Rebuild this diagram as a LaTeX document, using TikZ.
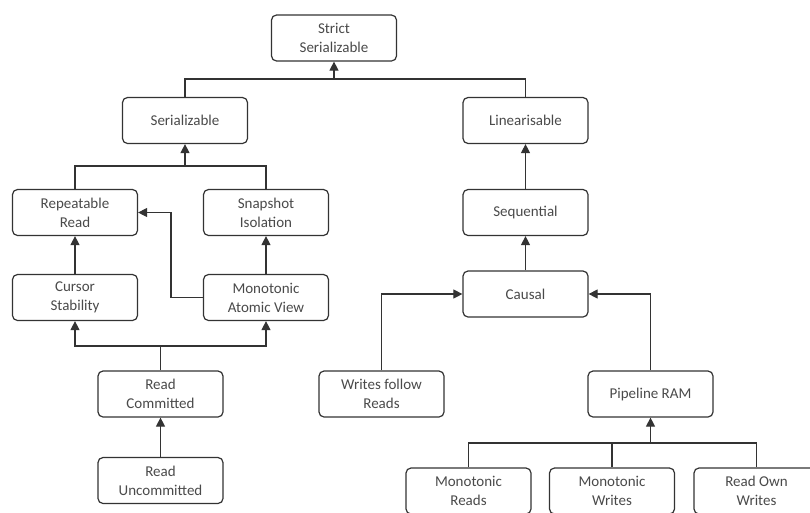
\documentclass[tikz,border=0pt]{standalone}
\usepackage{fontspec}
\setmainfont{Carlito}
\usepackage{xcolor}
\usepackage{tikz}
\usetikzlibrary{arrows.meta, positioning}

\definecolor{boxline}{HTML}{333333}
\definecolor{boxtext}{HTML}{4A4A4A}

\tikzset{
	level/.style={draw=boxline, line width=1.2pt, rounded corners=5pt, fill=white,
		minimum width=125pt, minimum height=46pt, align=center, text=boxtext,
		font=\fontsize{15}{19}\selectfont, inner sep=2pt},
	wire/.style={draw=boxline, line width=1.1pt},
	arr/.style={wire, -{Triangle[length=9pt, width=9pt]}}
}

\begin{document}
\begin{tikzpicture}[x=1pt, y=-1pt]
			\clip (0,0) rectangle (810,512);
			\useasboundingbox (0,0) rectangle (810,512);
			% Nodes:
			\node[level] (strict) at (334, 38) {Strict\\Serializable};
			\node[level] (ser) at (185, 120.5) {Serializable};
			\node[level] (lin) at (525.5, 120.5) {Linearisable};
			\node[level] (rr) at (75, 212.5) {Repeatable\\Read};
			\node[level] (si) at (266, 212.5) {Snapshot\\Isolation};
			\node[level] (seq) at (525.5, 212.5) {Sequential};
			\node[level] (cs) at (75, 297.5) {Cursor\\Stability};
			\node[level] (mav) at (266, 297.5) {Monotonic\\Atomic View};
			\node[level] (causal) at (525.5, 294) {Causal};
			\node[level] (rc) at (160.5, 394) {Read\\Committed};
			\node[level] (wfr) at (381.5, 394) {Writes follow\\Reads};
			\node[level] (pram) at (650.5, 394) {Pipeline RAM};
			\node[level] (ru) at (160.5, 480.5) {Read\\Uncommitted};
			\node[level] (mr) at (468.5, 491) {Monotonic\\Reads};
			\node[level] (mw) at (612, 491) {Monotonic\\Writes};
			\node[level] (row) at (756.5, 491) {Read Own\\Writes};
			% Junctions:
			\coordinate (topbus) at (334, 79);
			\coordinate (serbus) at (185, 166);
			\coordinate (rcbus) at (160.5, 346);
			\coordinate (pbus) at (650.5, 443);
			\coordinate (mavbend) at (171, 297.5);
			% Wires:
			\draw[wire] (ser.north) |- (topbus) -| (lin.north);
			\draw[arr] (topbus) -- (strict.south);
			\draw[wire] (rr.north) |- (serbus) -| (si.north);
			\draw[arr] (serbus) -- (ser.south);
			\draw[arr] (cs.north) -- (rr.south);
			\draw[arr] (mav.north) -- (si.south);
			\draw[arr] (mav.west) -- (mavbend) |- (rr.east);
			\draw[wire] (rc.north) -- (rcbus);
			\draw[arr] (rcbus) -| (cs.south);
			\draw[arr] (rcbus) -| (mav.south);
			\draw[arr] (ru.north) -- (rc.south);
			\draw[arr] (seq.north) -- (lin.south);
			\draw[arr] (causal.north) -- (seq.south);
			\draw[arr] (wfr.north) |- (causal.west);
			\draw[arr] (pram.north) |- (causal.east);
			\draw[wire] (mr.north) |- (pbus) -| (row.north);
			\draw[wire] (mw.north) -- (mw.north |- pbus);
			\draw[arr] (pbus) -- (pram.south);
		\end{tikzpicture}
\end{document}
